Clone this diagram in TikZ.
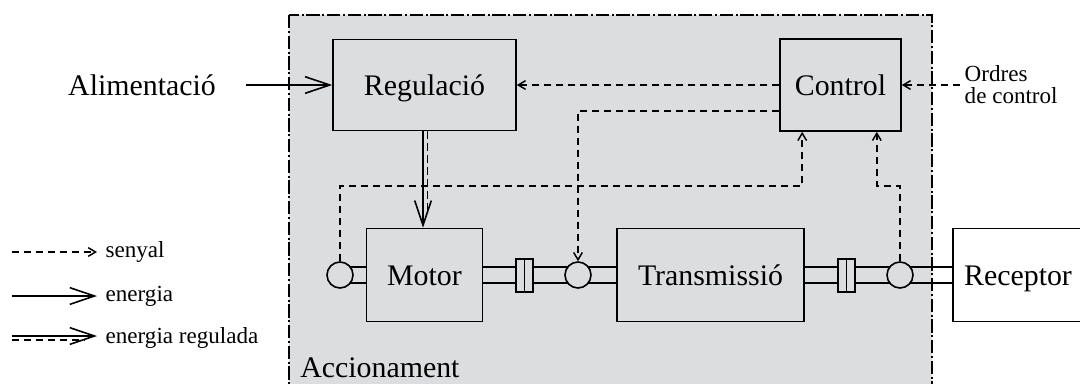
\documentclass[tikz,border=0pt]{standalone}
\usepackage{fontspec}
\setmainfont{Liberation Serif}
\usetikzlibrary{arrows.meta,calc,backgrounds}
\definecolor{accgray}{RGB}{220,221,223}
\newcommand{\shaft}[2]{%
  \draw[axle] ($(#1)+(0,-8)$) -- ($(#2)+(0,-8)$);
  \draw[axle] ($(#1)+(0,8)$) -- ($(#2)+(0,8)$);}

\begin{document}
\begin{tikzpicture}[x=0.75pt,y=-0.75pt,
  block/.style={draw, line width=1.2pt, fill=accgray, font=\fontsize{22.4}{26}\selectfont,
    inner sep=0pt, text height=16pt, text depth=0pt},
  joint/.style={draw, circle, line width=1.2pt, fill=accgray, minimum size=19.5pt, inner sep=0pt},
  coupling/.style={draw, line width=1.2pt, fill=accgray, minimum width=12.75pt,
    minimum height=24.75pt, inner sep=0pt},
  axle/.style={line width=1.2pt},
  region/.style={draw, line width=1.2pt, fill=accgray,
    dash pattern=on 10pt off 2pt on 1.5pt off 2pt},
  sigline/.style={dash pattern=on 5.5pt off 3.5pt, line width=1.1pt},
  signal/.style={sigline, -{Straight Barb[length=5.5pt,width=6.5pt]}},
  energy/.style={line width=1.2pt, -{Straight Barb[length=18.5pt,width=12.5pt]}},
  small/.style={font=\fontsize{17.3}{16.5}\selectfont},
  big/.style={font=\fontsize{22.4}{26}\selectfont}
]
\useasboundingbox (0,0) rectangle (1080,383);

\node[block, minimum width=137.25pt, minimum height=68.25pt] (regul) at (424.5,85) {Regulació};
\node[block, minimum width=90.75pt, minimum height=69pt] (control) at (840.5,85) {Control};
\node[block, minimum width=87pt, minimum height=69.75pt] (motor) at (424.5,275) {Motor};
\node[block, minimum width=140.25pt, minimum height=69.75pt] (transm) at (710.5,275) {Transmissió};
\node[block, fill=white, minimum width=97.5pt, minimum height=69.75pt] (recept) at (1018,275) {Receptor};

\node[joint] (m1) at (340,275) {};
\node[joint] (m2) at (578,275) {};
\node[joint] (m3) at (900,275) {};
\node[coupling] (c1) at (524.5,275.5) {};
\node[coupling] (c2) at (846.5,275.5) {};
\draw[axle] (c1.north) -- (c1.south);
\draw[axle] (c2.north) -- (c2.south);

\begin{scope}[on background layer]
\draw[region] (289,15) rectangle (932,400);
\shaft{m1.center}{motor.west}
\shaft{motor.east}{m2.center}
\shaft{m2.center}{transm.west}
\shaft{transm.east}{m3.center}
\shaft{m3.center}{recept.west}
\end{scope}

\node[big] (alim) at (142,85) {Alimentació};
\node[small, align=left, anchor=west] (ordres) at (960,85) {Ordres\\de control};
\node[big, anchor=base west, inner sep=0pt] (accion) at (300,377) {Accionament};

\draw[energy] ($(alim.east)+(25,0)$) -- (regul.west);
\draw[signal] (control.west) -- (regul.east);
\draw[signal] (ordres.west) -- (control.east);
\draw[energy] ($(regul.south)+(-1.5,0)$) -- ($(motor.north)+(-1.5,0)$);
\draw[sigline] ($(regul.south)+(3,0)$) -- ($(motor.north)+(3,-13)$);
\draw[signal] (m1.north) -- ++(0,-75) -| ($(control.south west)+(23,0)$);
\draw[signal] (m3.north) -- ++(0,-75) -| ($(control.south east)+(-25,0)$);
\draw[signal] ($(control.south west)+(0,-21)$) -| (m2.north);

\node[small, anchor=west] (lsig) at (101,252) {senyal};
\node[small, anchor=west] (len) at (101,296) {energia};
\node[small, anchor=west] (lreg) at (101,338) {energia regulada};
\coordinate (k1) at (12,252);
\coordinate (k2) at (12,296);
\coordinate (k3) at (12,336);
\draw[signal] (k1) -- ([xshift=-3pt]lsig.west);
\draw[energy] (k2) -- ([xshift=-3pt]len.west);
\draw[energy] (k3) -- ([xshift=-3pt]lreg.west |- k3);
\draw[sigline] ($(k3)+(0,4)$) -- ($(k3)+(73,4)$);
\end{tikzpicture}
\end{document}
